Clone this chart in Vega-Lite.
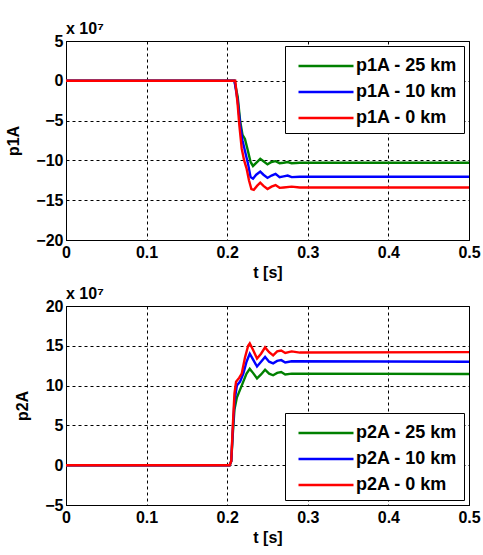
{
  "$schema": "https://vega.github.io/schema/vega-lite/v6.json",
  "background": "white",
  "padding": {"left": 5, "top": 20, "right": 10, "bottom": 2},
  "spacing": 4,
  "data": {"values": [
    {"panel": "p1A", "series": "p1A - 25 km", "t": 0, "v": 0},
    {"panel": "p1A", "series": "p1A - 25 km", "t": 0.209, "v": 0},
    {"panel": "p1A", "series": "p1A - 25 km", "t": 0.213, "v": -2},
    {"panel": "p1A", "series": "p1A - 25 km", "t": 0.216, "v": -5},
    {"panel": "p1A", "series": "p1A - 25 km", "t": 0.219, "v": -6.8},
    {"panel": "p1A", "series": "p1A - 25 km", "t": 0.222, "v": -7.3},
    {"panel": "p1A", "series": "p1A - 25 km", "t": 0.225, "v": -8.5},
    {"panel": "p1A", "series": "p1A - 25 km", "t": 0.229, "v": -10.2},
    {"panel": "p1A", "series": "p1A - 25 km", "t": 0.232, "v": -10.7},
    {"panel": "p1A", "series": "p1A - 25 km", "t": 0.236, "v": -10.3},
    {"panel": "p1A", "series": "p1A - 25 km", "t": 0.241, "v": -9.8},
    {"panel": "p1A", "series": "p1A - 25 km", "t": 0.245, "v": -10.1},
    {"panel": "p1A", "series": "p1A - 25 km", "t": 0.25, "v": -10.5},
    {"panel": "p1A", "series": "p1A - 25 km", "t": 0.255, "v": -10.2},
    {"panel": "p1A", "series": "p1A - 25 km", "t": 0.26, "v": -10.1},
    {"panel": "p1A", "series": "p1A - 25 km", "t": 0.265, "v": -10.35},
    {"panel": "p1A", "series": "p1A - 25 km", "t": 0.27, "v": -10.3},
    {"panel": "p1A", "series": "p1A - 25 km", "t": 0.275, "v": -10.2},
    {"panel": "p1A", "series": "p1A - 25 km", "t": 0.28, "v": -10.35},
    {"panel": "p1A", "series": "p1A - 25 km", "t": 0.29, "v": -10.3},
    {"panel": "p1A", "series": "p1A - 25 km", "t": 0.5, "v": -10.3},
    {"panel": "p1A", "series": "p1A - 10 km", "t": 0, "v": 0},
    {"panel": "p1A", "series": "p1A - 10 km", "t": 0.209, "v": 0},
    {"panel": "p1A", "series": "p1A - 10 km", "t": 0.213, "v": -2.5},
    {"panel": "p1A", "series": "p1A - 10 km", "t": 0.216, "v": -5.5},
    {"panel": "p1A", "series": "p1A - 10 km", "t": 0.219, "v": -7.5},
    {"panel": "p1A", "series": "p1A - 10 km", "t": 0.222, "v": -8.8},
    {"panel": "p1A", "series": "p1A - 10 km", "t": 0.226, "v": -10.5},
    {"panel": "p1A", "series": "p1A - 10 km", "t": 0.229, "v": -12.1},
    {"panel": "p1A", "series": "p1A - 10 km", "t": 0.232, "v": -12.3},
    {"panel": "p1A", "series": "p1A - 10 km", "t": 0.236, "v": -11.8},
    {"panel": "p1A", "series": "p1A - 10 km", "t": 0.241, "v": -11.4},
    {"panel": "p1A", "series": "p1A - 10 km", "t": 0.245, "v": -11.8},
    {"panel": "p1A", "series": "p1A - 10 km", "t": 0.25, "v": -12.2},
    {"panel": "p1A", "series": "p1A - 10 km", "t": 0.255, "v": -11.9},
    {"panel": "p1A", "series": "p1A - 10 km", "t": 0.26, "v": -11.7},
    {"panel": "p1A", "series": "p1A - 10 km", "t": 0.265, "v": -12.1},
    {"panel": "p1A", "series": "p1A - 10 km", "t": 0.27, "v": -12.0},
    {"panel": "p1A", "series": "p1A - 10 km", "t": 0.275, "v": -11.9},
    {"panel": "p1A", "series": "p1A - 10 km", "t": 0.28, "v": -12.1},
    {"panel": "p1A", "series": "p1A - 10 km", "t": 0.29, "v": -12.05},
    {"panel": "p1A", "series": "p1A - 10 km", "t": 0.5, "v": -12.05},
    {"panel": "p1A", "series": "p1A - 0 km", "t": 0, "v": 0},
    {"panel": "p1A", "series": "p1A - 0 km", "t": 0.21, "v": 0},
    {"panel": "p1A", "series": "p1A - 0 km", "t": 0.213, "v": -3},
    {"panel": "p1A", "series": "p1A - 0 km", "t": 0.215, "v": -5.5},
    {"panel": "p1A", "series": "p1A - 0 km", "t": 0.218, "v": -8.5},
    {"panel": "p1A", "series": "p1A - 0 km", "t": 0.221, "v": -10},
    {"panel": "p1A", "series": "p1A - 0 km", "t": 0.224, "v": -11},
    {"panel": "p1A", "series": "p1A - 0 km", "t": 0.227, "v": -12.5},
    {"panel": "p1A", "series": "p1A - 0 km", "t": 0.23, "v": -13.6},
    {"panel": "p1A", "series": "p1A - 0 km", "t": 0.233, "v": -13.7},
    {"panel": "p1A", "series": "p1A - 0 km", "t": 0.237, "v": -13.2},
    {"panel": "p1A", "series": "p1A - 0 km", "t": 0.241, "v": -12.8},
    {"panel": "p1A", "series": "p1A - 0 km", "t": 0.245, "v": -13.2},
    {"panel": "p1A", "series": "p1A - 0 km", "t": 0.25, "v": -13.6},
    {"panel": "p1A", "series": "p1A - 0 km", "t": 0.255, "v": -13.3},
    {"panel": "p1A", "series": "p1A - 0 km", "t": 0.26, "v": -13.1},
    {"panel": "p1A", "series": "p1A - 0 km", "t": 0.265, "v": -13.45},
    {"panel": "p1A", "series": "p1A - 0 km", "t": 0.27, "v": -13.4},
    {"panel": "p1A", "series": "p1A - 0 km", "t": 0.28, "v": -13.3},
    {"panel": "p1A", "series": "p1A - 0 km", "t": 0.29, "v": -13.4},
    {"panel": "p1A", "series": "p1A - 0 km", "t": 0.5, "v": -13.4},
    {"panel": "p2A", "series": "p2A - 25 km", "t": 0, "v": 0},
    {"panel": "p2A", "series": "p2A - 25 km", "t": 0.203, "v": 0},
    {"panel": "p2A", "series": "p2A - 25 km", "t": 0.205, "v": 0.5},
    {"panel": "p2A", "series": "p2A - 25 km", "t": 0.207, "v": 4},
    {"panel": "p2A", "series": "p2A - 25 km", "t": 0.209, "v": 7},
    {"panel": "p2A", "series": "p2A - 25 km", "t": 0.212, "v": 8.5},
    {"panel": "p2A", "series": "p2A - 25 km", "t": 0.216, "v": 9.5},
    {"panel": "p2A", "series": "p2A - 25 km", "t": 0.22, "v": 10.5},
    {"panel": "p2A", "series": "p2A - 25 km", "t": 0.224, "v": 11.5},
    {"panel": "p2A", "series": "p2A - 25 km", "t": 0.228, "v": 12.1},
    {"panel": "p2A", "series": "p2A - 25 km", "t": 0.232, "v": 11.6},
    {"panel": "p2A", "series": "p2A - 25 km", "t": 0.237, "v": 10.9},
    {"panel": "p2A", "series": "p2A - 25 km", "t": 0.242, "v": 11.4},
    {"panel": "p2A", "series": "p2A - 25 km", "t": 0.247, "v": 12.0},
    {"panel": "p2A", "series": "p2A - 25 km", "t": 0.252, "v": 11.5},
    {"panel": "p2A", "series": "p2A - 25 km", "t": 0.257, "v": 11.3},
    {"panel": "p2A", "series": "p2A - 25 km", "t": 0.262, "v": 11.6},
    {"panel": "p2A", "series": "p2A - 25 km", "t": 0.267, "v": 11.7},
    {"panel": "p2A", "series": "p2A - 25 km", "t": 0.272, "v": 11.4},
    {"panel": "p2A", "series": "p2A - 25 km", "t": 0.28, "v": 11.5},
    {"panel": "p2A", "series": "p2A - 25 km", "t": 0.5, "v": 11.45},
    {"panel": "p2A", "series": "p2A - 10 km", "t": 0, "v": 0},
    {"panel": "p2A", "series": "p2A - 10 km", "t": 0.203, "v": 0},
    {"panel": "p2A", "series": "p2A - 10 km", "t": 0.205, "v": 0.5},
    {"panel": "p2A", "series": "p2A - 10 km", "t": 0.207, "v": 4.5},
    {"panel": "p2A", "series": "p2A - 10 km", "t": 0.209, "v": 8},
    {"panel": "p2A", "series": "p2A - 10 km", "t": 0.212, "v": 10},
    {"panel": "p2A", "series": "p2A - 10 km", "t": 0.216, "v": 10.5},
    {"panel": "p2A", "series": "p2A - 10 km", "t": 0.22, "v": 11.5},
    {"panel": "p2A", "series": "p2A - 10 km", "t": 0.224, "v": 13},
    {"panel": "p2A", "series": "p2A - 10 km", "t": 0.228, "v": 14},
    {"panel": "p2A", "series": "p2A - 10 km", "t": 0.232, "v": 13.3},
    {"panel": "p2A", "series": "p2A - 10 km", "t": 0.237, "v": 12.4},
    {"panel": "p2A", "series": "p2A - 10 km", "t": 0.242, "v": 13},
    {"panel": "p2A", "series": "p2A - 10 km", "t": 0.247, "v": 13.6},
    {"panel": "p2A", "series": "p2A - 10 km", "t": 0.252, "v": 13.0},
    {"panel": "p2A", "series": "p2A - 10 km", "t": 0.257, "v": 12.8},
    {"panel": "p2A", "series": "p2A - 10 km", "t": 0.262, "v": 13.1},
    {"panel": "p2A", "series": "p2A - 10 km", "t": 0.267, "v": 13.2},
    {"panel": "p2A", "series": "p2A - 10 km", "t": 0.272, "v": 12.9},
    {"panel": "p2A", "series": "p2A - 10 km", "t": 0.28, "v": 13.05},
    {"panel": "p2A", "series": "p2A - 10 km", "t": 0.5, "v": 13},
    {"panel": "p2A", "series": "p2A - 0 km", "t": 0, "v": 0},
    {"panel": "p2A", "series": "p2A - 0 km", "t": 0.203, "v": 0},
    {"panel": "p2A", "series": "p2A - 0 km", "t": 0.205, "v": 0.5},
    {"panel": "p2A", "series": "p2A - 0 km", "t": 0.207, "v": 5},
    {"panel": "p2A", "series": "p2A - 0 km", "t": 0.209, "v": 9},
    {"panel": "p2A", "series": "p2A - 0 km", "t": 0.211, "v": 10.5},
    {"panel": "p2A", "series": "p2A - 0 km", "t": 0.215, "v": 11},
    {"panel": "p2A", "series": "p2A - 0 km", "t": 0.218, "v": 11.5},
    {"panel": "p2A", "series": "p2A - 0 km", "t": 0.222, "v": 13.5},
    {"panel": "p2A", "series": "p2A - 0 km", "t": 0.226, "v": 15},
    {"panel": "p2A", "series": "p2A - 0 km", "t": 0.228, "v": 15.3},
    {"panel": "p2A", "series": "p2A - 0 km", "t": 0.232, "v": 14.5},
    {"panel": "p2A", "series": "p2A - 0 km", "t": 0.237, "v": 13.4},
    {"panel": "p2A", "series": "p2A - 0 km", "t": 0.242, "v": 14},
    {"panel": "p2A", "series": "p2A - 0 km", "t": 0.247, "v": 14.8},
    {"panel": "p2A", "series": "p2A - 0 km", "t": 0.252, "v": 14.2},
    {"panel": "p2A", "series": "p2A - 0 km", "t": 0.257, "v": 13.8},
    {"panel": "p2A", "series": "p2A - 0 km", "t": 0.262, "v": 14.3},
    {"panel": "p2A", "series": "p2A - 0 km", "t": 0.267, "v": 14.4},
    {"panel": "p2A", "series": "p2A - 0 km", "t": 0.272, "v": 14.1},
    {"panel": "p2A", "series": "p2A - 0 km", "t": 0.28, "v": 14.3},
    {"panel": "p2A", "series": "p2A - 0 km", "t": 0.29, "v": 14.15},
    {"panel": "p2A", "series": "p2A - 0 km", "t": 0.5, "v": 14.2}
  ]},
  "vconcat": [
    {
      "width": 403,
      "height": 199,
      "title": {"text": "x 10⁷", "anchor": "start", "frame": "group", "offset": -4, "fontSize": 16, "fontWeight": "bold", "font": "Liberation Sans", "color": "black"},
      "transform": [{"filter": "datum.panel == 'p1A'"}],
      "mark": {"type": "line", "strokeWidth": 2.4, "interpolate": "linear"},
      "encoding": {
        "x": {"field": "t", "type": "quantitative", "title": "t [s]",
              "scale": {"domain": [0, 0.5], "nice": false, "zero": false},
              "axis": {"values": [0, 0.1, 0.2, 0.3, 0.4, 0.5], "format": "~g"}},
        "y": {"field": "v", "type": "quantitative", "title": "p1A",
              "scale": {"domain": [-20, 5], "nice": false, "zero": false},
              "axis": {"values": [-20, -15, -10, -5, 0, 5]}},
        "color": {"field": "series", "type": "nominal", "sort": null,
                  "scale": {"domain": ["p1A - 25 km", "p1A - 10 km", "p1A - 0 km"], "range": ["#008000", "#0000ff", "#ff0000"]},
                  "legend": {"orient": "top-right", "offset": 5}}
      }
    },
    {
      "width": 403,
      "height": 199,
      "title": {"text": "x 10⁷", "anchor": "start", "frame": "group", "offset": -4, "fontSize": 16, "fontWeight": "bold", "font": "Liberation Sans", "color": "black"},
      "transform": [{"filter": "datum.panel == 'p2A'"}],
      "mark": {"type": "line", "strokeWidth": 2.4, "interpolate": "linear"},
      "encoding": {
        "x": {"field": "t", "type": "quantitative", "title": "t [s]",
              "scale": {"domain": [0, 0.5], "nice": false, "zero": false},
              "axis": {"values": [0, 0.1, 0.2, 0.3, 0.4, 0.5], "format": "~g"}},
        "y": {"field": "v", "type": "quantitative", "title": "p2A",
              "scale": {"domain": [-5, 20], "nice": false, "zero": false},
              "axis": {"values": [-5, 0, 5, 10, 15, 20]}},
        "color": {"field": "series", "type": "nominal", "sort": null,
                  "scale": {"domain": ["p2A - 25 km", "p2A - 10 km", "p2A - 0 km"], "range": ["#008000", "#0000ff", "#ff0000"]},
                  "legend": {"orient": "bottom-right", "offset": 5}}
      }
    }
  ],
  "resolve": {"scale": {"color": "independent", "x": "independent", "y": "independent"}},
  "config": {
    "font": "Liberation Sans",
    "view": {"stroke": "black", "strokeWidth": 1},
    "title": {"fontSize": 16, "fontWeight": "bold", "color": "black"},
    "axis": {
      "domainColor": "black",
      "domainWidth": 1,
      "grid": true,
      "gridColor": "black",
      "gridOpacity": 1,
      "gridDash": [3, 3],
      "gridWidth": 1,
      "ticks": false,
      "labelFont": "Liberation Sans",
      "labelFontSize": 16,
      "labelFontWeight": "bold",
      "labelColor": "black",
      "labelPadding": 3,
      "titleFont": "Liberation Sans",
      "titleFontSize": 16,
      "titleFontWeight": "bold",
      "titleColor": "black"
    },
    "axisX": {"labelPadding": 4, "titlePadding": 4, "labelFlush": false},
    "axisY": {"titlePadding": 14, "labelFlush": false},
    "legend": {
      "title": null,
      "strokeColor": "black",
      "fillColor": "white",
      "padding": 6,
      "symbolType": "M-2.2,0H2.2",
      "symbolSize": 625,
      "symbolStrokeWidth": 2.5,
      "labelFont": "Liberation Sans",
      "labelFontSize": 18,
      "labelFontWeight": "bold",
      "labelColor": "black",
      "rowPadding": 3,
      "labelOffset": 16,
      "symbolOffset": 21,
      "cornerRadius": 0
    }
  }
}
